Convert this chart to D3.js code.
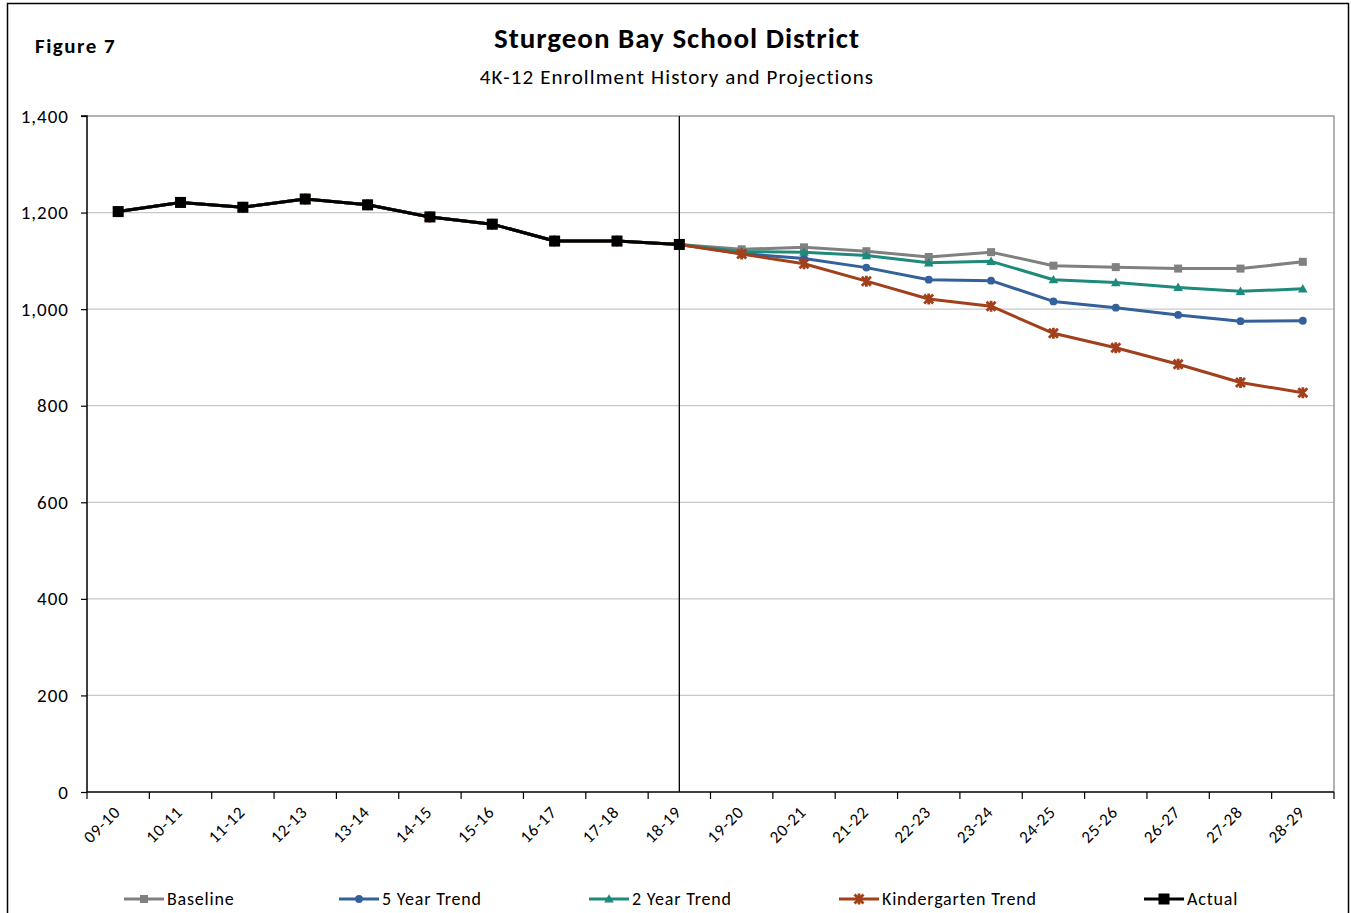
<!DOCTYPE html>
<html><head><meta charset="utf-8">
<script src="https://cdn.jsdelivr.net/npm/d3@7"></script>
<style>
html,body{margin:0;padding:0;background:#fff;}
svg{display:block;font-family:Carlito, Lato, "Open Sans", sans-serif;}
</style></head>
<body>
<svg id="chart" width="1351" height="913"></svg>
<script>
const categories = ["09-10","10-11","11-12","12-13","13-14","14-15","15-16","16-17","17-18","18-19",
  "19-20","20-21","21-22","22-23","23-24","24-25","25-26","26-27","27-28","28-29"];
const actual = [1202,1221,1211,1228,1216,1191,1176,1141,1141,1134];
const baseline = [1202,1221,1211,1228,1216,1191,1176,1141,1141,1134,
  1124,1128,1120,1108,1118,1090,1087,1084,1084,1098];
const fiveYearTrend = [1202,1221,1211,1228,1216,1191,1176,1141,1141,1134,
  1115,1105,1086,1061,1059,1016,1003,988,975,976];
const twoYearTrend = [1202,1221,1211,1228,1216,1191,1176,1141,1141,1134,
  1119,1118,1111,1096,1099,1061,1055,1045,1037,1042];
const kindergartenTrend = [1202,1221,1211,1228,1216,1191,1176,1141,1141,1134,
  1114,1094,1058,1021,1006,950,920,886,848,827];
const yTicks = [0,200,400,600,800,1000,1200,1400];
const seriesNames = ["Baseline","5 Year Trend","2 Year Trend","Kindergarten Trend","Actual"];
const dividerCategory = "18-19";

const colors = {"Baseline":"#808080","5 Year Trend":"#34619a","2 Year Trend":"#1e8a7b","Kindergarten Trend":"#a3401c","Actual":"#000000"};
const markers = {"Baseline":"square","5 Year Trend":"circle","2 Year Trend":"triangle","Kindergarten Trend":"star","Actual":"bigsquare"};
const seriesData = {"Baseline":baseline,"5 Year Trend":fiveYearTrend,"2 Year Trend":twoYearTrend,"Kindergarten Trend":kindergartenTrend,"Actual":actual};

const svg = d3.select("#chart");
const L = 87, R = 1334, T = 116, B = 792;
const x = d3.scaleBand().domain(categories).range([L, R]);
const cx = c => x(c) + x.bandwidth()/2;
const y = d3.scaleLinear().domain([0,1400]).range([B, T]);

// outer border
svg.append("rect").attr("x",7.5).attr("y",3.5).attr("width",1341).attr("height",920)
  .attr("fill","none").attr("stroke","#000").attr("stroke-width",1.5);

// titles
svg.append("text").attr("x",35).attr("y",53).attr("font-size",21).attr("font-weight","bold").attr("letter-spacing",1.5).text("Figure  7");
svg.append("text").attr("x",677).attr("y",48).attr("text-anchor","middle").attr("font-size",29).attr("font-weight","bold").attr("letter-spacing",1).text("Sturgeon  Bay  School  District");
svg.append("text").attr("x",677).attr("y",84).attr("text-anchor","middle").attr("font-size",21).attr("letter-spacing",1.1).text("4K-12 Enrollment  History and Projections");

// gridlines
svg.append("g").selectAll("line").data(yTicks.filter(d=>d>0 && d<1400)).join("line")
  .attr("x1",L).attr("x2",R).attr("y1",d=>y(d)).attr("y2",d=>y(d))
  .attr("stroke","#c8c8c8").attr("stroke-width",1.3);
// plot top/right border
svg.append("path").attr("d",`M${L},${T}H${R}V${B}`).attr("fill","none").attr("stroke","#9a9a9a").attr("stroke-width",1.5);

// y axis
const yAxis = svg.append("g").attr("transform",`translate(${L},0)`)
  .call(d3.axisLeft(y).tickValues(yTicks).tickFormat(d3.format(",")).tickSize(6).tickPadding(12));
yAxis.select(".domain").attr("stroke","#000").attr("stroke-width",1.5).attr("d",`M-6,${T}H0V${B}`);
yAxis.selectAll(".tick line").attr("stroke","#000").attr("stroke-width",1.2);
yAxis.selectAll("text").attr("font-size",19).attr("letter-spacing",1).attr("fill","#000").attr("font-family","Carlito, Lato, 'Open Sans', sans-serif");

// x axis
const xg = svg.append("g");
xg.append("line").attr("x1",L).attr("x2",R).attr("y1",B).attr("y2",B).attr("stroke","#000").attr("stroke-width",1.5);
xg.selectAll("line.tk").data(categories.map(c=>x(c)).concat([R])).join("line").attr("class","tk")
  .attr("x1",d=>d).attr("x2",d=>d).attr("y1",B).attr("y2",B+7).attr("stroke","#000").attr("stroke-width",1.2);
xg.selectAll("text").data(categories).join("text")
  .attr("transform",c=>`translate(${cx(c)-1},${B+17}) rotate(-45)`)
  .attr("text-anchor","end").attr("dy","0.35em").attr("font-size",17).attr("letter-spacing",0.8).text(c=>c);

// divider line
svg.append("line").attr("x1",cx(dividerCategory)).attr("x2",cx(dividerCategory)).attr("y1",T).attr("y2",B)
  .attr("stroke","#000").attr("stroke-width",1.3);

function drawMarker(g, type, px, py, color){
  if(type==="square"){
    g.append("rect").attr("x",px-4).attr("y",py-4).attr("width",8).attr("height",8).attr("fill",color);
  } else if(type==="bigsquare"){
    g.append("rect").attr("x",px-5.5).attr("y",py-5.5).attr("width",11).attr("height",11).attr("fill",color);
  } else if(type==="circle"){
    g.append("circle").attr("cx",px).attr("cy",py).attr("r",3.9).attr("fill",color);
  } else if(type==="triangle"){
    g.append("path").attr("d",`M${px},${py-4.8}L${px+4.8},${py+3.6}L${px-4.8},${py+3.6}Z`).attr("fill",color);
  } else if(type==="star"){
    g.append("path").attr("d",`M${px-4.5},${py-4.5}L${px+4.5},${py+4.5}M${px+4.5},${py-4.5}L${px-4.5},${py+4.5}M${px},${py-5.5}L${px},${py+5.5}`)
      .attr("stroke",color).attr("stroke-width",2.8).attr("fill","none");
  }
}

const line = d3.line().x((d,i)=>cx(categories[i])).y(d=>y(d));
const plot = svg.append("g");
seriesNames.forEach(name=>{
  const vals = seriesData[name];
  const g = plot.append("g");
  g.append("path").attr("d",line(vals)).attr("fill","none").attr("stroke",colors[name])
    .attr("stroke-width",3).attr("stroke-linejoin","round");
  vals.forEach((v,i)=>drawMarker(g, markers[name], cx(categories[i]), y(v), colors[name]));
});

// legend
const legendX = [124,339,589,839,1144];
const legY = 899;
const lg = svg.append("g");
seriesNames.forEach((name,i)=>{
  const g = lg.append("g");
  const x0 = legendX[i];
  g.append("line").attr("x1",x0).attr("x2",x0+40).attr("y1",legY).attr("y2",legY).attr("stroke",colors[name]).attr("stroke-width",3);
  drawMarker(g, markers[name], x0+20, legY, colors[name]);
  g.append("text").attr("x",x0+43).attr("y",legY).attr("dy","0.35em").attr("font-size",18).attr("letter-spacing",0.8).text(name);
});
</script>
</body></html>
